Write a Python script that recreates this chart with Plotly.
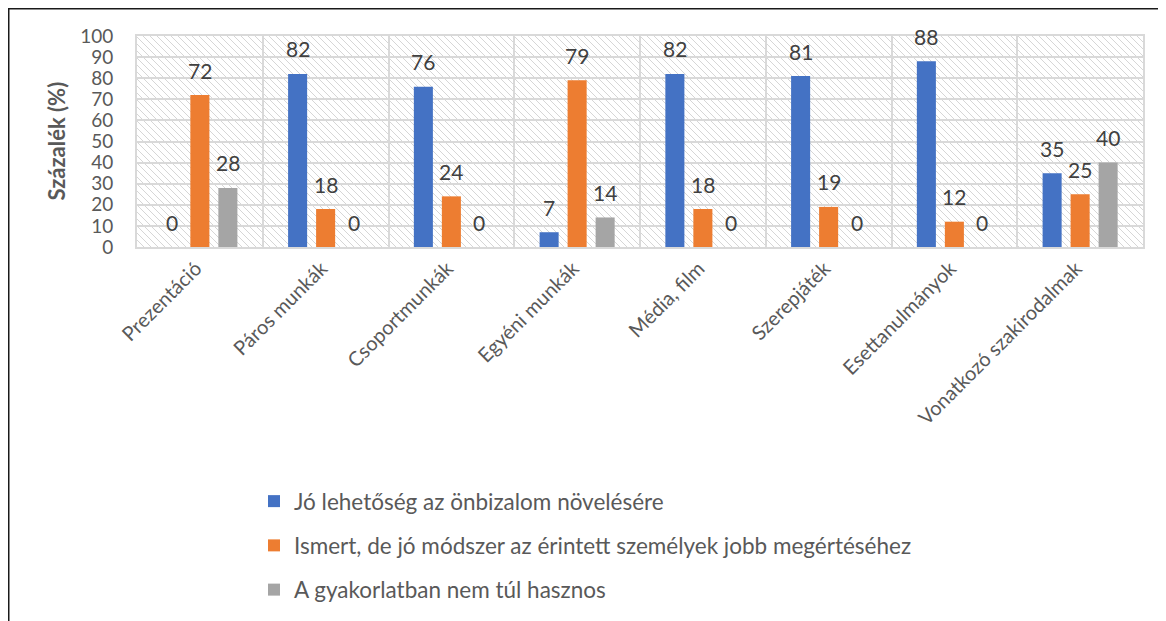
import plotly.graph_objects as go

categories = ["Prezentáció", "Páros munkák", "Csoportmunkák", "Egyéni munkák",
              "Média, film", "Szerepjáték", "Esettanulmányok", "Vonatkozó szakirodalmak"]
series_names = ["Jó lehetőség az önbizalom növelésére",
                "Ismert, de jó módszer az érintett személyek jobb megértéséhez",
                "A gyakorlatban nem túl hasznos"]
vals_blue = [0, 82, 76, 7, 82, 81, 88, 35]
vals_orange = [72, 18, 24, 79, 18, 19, 12, 25]
vals_gray = [28, 0, 0, 14, 0, 0, 0, 40]
y_ticks = list(range(0, 101, 10))
y_title = "Százalék (%)"

colors = ["#4472C4", "#ED7D31", "#A5A5A5"]
series_vals = [vals_blue, vals_orange, vals_gray]

FONT = "Lato"
W_FIG, H_FIG = 1166, 621
# page body has an 8px margin: positions below are in figure pixels
ML, MR, MT, MB = 129, 31, 28, 382
PW = W_FIG - ML - MR
PH = H_FIG - MT - MB

fig = go.Figure()
for name, vals, col in zip(series_names, series_vals, colors):
    fig.add_trace(go.Bar(x=categories, y=vals, name=name, marker=dict(color=col, line=dict(width=0)),
                         legendgroup=name))

def px2paper_x(p):
    return (p - ML) / PW
def px2paper_y(p):
    return (H_FIG - MB - p) / PH

# data labels
offsets = [-28, 0, 28]
annotations = []
for vals, off in zip(series_vals, offsets):
    for c, v in zip(categories, vals):
        annotations.append(dict(x=c, y=v, xref="x", yref="y", text=str(v), showarrow=False,
                                xshift=off, yshift=25, yanchor="middle",
                                font=dict(family=FONT, size=21, color="#404040")))
# y axis title
annotations.append(dict(x=px2paper_x(48), y=0.5, xref="paper", yref="paper", text=f"<b>{y_title}</b>",
                        textangle=-90, showarrow=False, xanchor="center", yanchor="middle",
                        font=dict(family=FONT, size=22, color="#595959")))

# hatch background (decoration)
segs = []
step = 7
c = -PH
while c < PW:
    xa = max(c, 0)
    xb = min(c + PH, PW)
    if xb > xa:
        ya = xa - c
        yb = xb - c
        segs.append(f"M{xa/PW:.5f},{1-ya/PH:.5f}L{xb/PW:.5f},{1-yb/PH:.5f}")
    c += step
shapes = [dict(type="path", path=" ".join(segs), xref="paper", yref="paper", layer="below",
               line=dict(color="#d6d6d6", width=1))]
# outer frame
shapes.append(dict(type="rect", xref="paper", yref="paper",
                   x0=px2paper_x(0.5), x1=px2paper_x(1250), y0=px2paper_y(700), y1=px2paper_y(0.5),
                   line=dict(color="#1a1a1a", width=2), layer="above"))

fig.update_layout(
    width=W_FIG, height=H_FIG,
    margin=dict(l=ML, r=MR, t=MT, b=MB, autoexpand=False),
    paper_bgcolor="white", plot_bgcolor="rgba(0,0,0,0)",
    barmode="group", bargap=0.332, bargroupgap=0.32,
    font=dict(family=FONT, color="#595959"),
    showlegend=True,
    legend=dict(xref="container", yref="container", x=246 / W_FIG, y=1 - 472 / H_FIG,
                xanchor="left", yanchor="top",
                orientation="v", font=dict(family=FONT, size=22.5, color="#595959"),
                tracegroupgap=12, bgcolor="rgba(0,0,0,0)", itemwidth=30),
    annotations=annotations,
    shapes=shapes,
)
fig.update_xaxes(tickson="boundaries", showgrid=True, gridcolor="#d9d9d9", gridwidth=2,
                 showline=True, linecolor="#d9d9d9", linewidth=2, mirror=True, automargin=False,
                 tickangle=-45, tickfont=dict(family=FONT, size=20, color="#595959"),
                 ticks="outside", ticklen=15, tickcolor="rgba(0,0,0,0)", ticklabelshift=-4)
fig.update_yaxes(range=[0, 100], tickvals=y_ticks, showgrid=True, gridcolor="#d9d9d9", gridwidth=2,
                 showline=True, linecolor="#d9d9d9", linewidth=2, mirror=True, zeroline=False,
                 automargin=False,
                 tickfont=dict(family=FONT, size=19, color="#595959"),
                 ticks="outside", ticklen=18, tickcolor="rgba(0,0,0,0)")

fig.write_html("out.html")
